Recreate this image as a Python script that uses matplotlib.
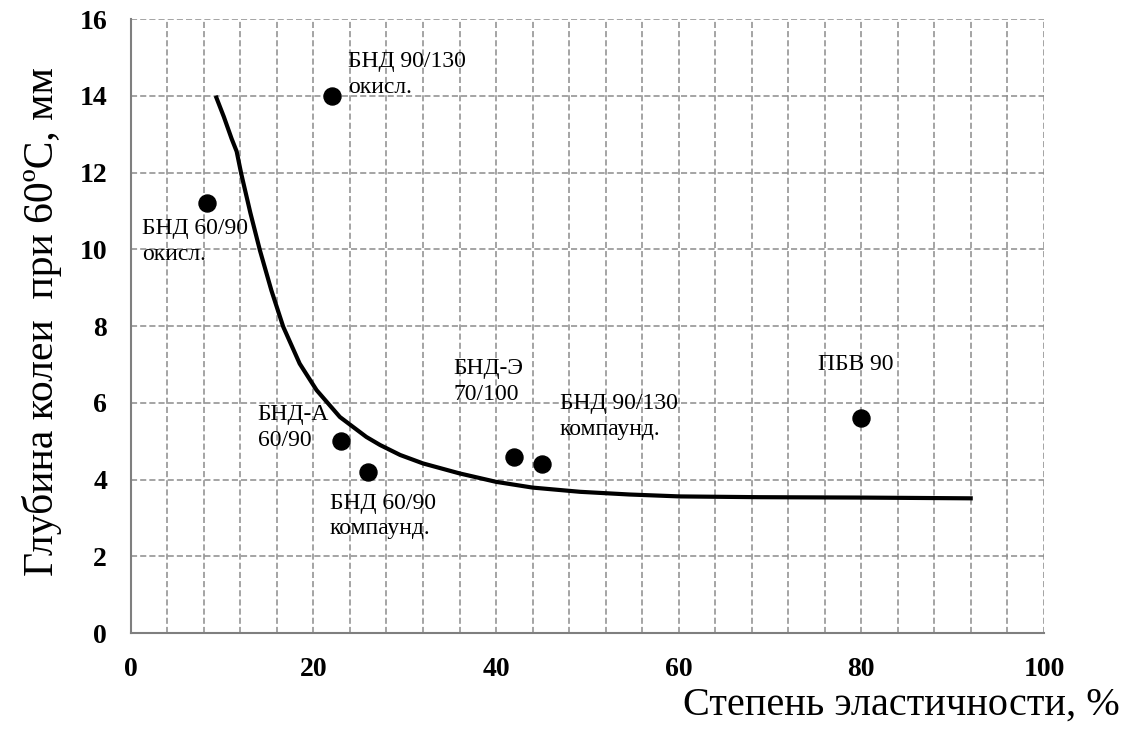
import matplotlib
matplotlib.use("Agg")
import matplotlib.pyplot as plt
from matplotlib.ticker import MultipleLocator

plt.rcParams['font.family'] = ['Liberation Serif', 'DejaVu Serif']

# точки (степень эластичности, глубина колеи)
pts_x = [8.3, 22.0, 23.0, 26.0, 42.0, 45.0, 80.0]
pts_y = [11.2, 14.0, 5.0, 4.2, 4.6, 4.4, 5.6]

# подписи точек и их положение
labels = ['БНД 90/130\nокисл.', 'БНД 60/90\nокисл.', 'БНД-А\n60/90',
          'БНД 60/90\nкомпаунд.', 'БНД-Э\n70/100', 'БНД 90/130\nкомпаунд.', 'ПБВ 90']
lab_x = [23.8, 1.2, 13.9, 21.8, 35.3, 47.0, 75.2]
lab_y = [14.55, 10.2, 5.35, 3.05, 6.55, 5.65, 7.0]

# линия тренда
curve_x = [9.3, 10.2, 11.05, 11.6, 12.1, 13.1, 14.15, 15.4, 16.7, 18.5, 20.35, 22.9, 25.8,
           27.3, 29.5, 32.0, 36.0, 40.0, 44.0, 49.2, 54.6, 60.1, 68.8, 79.8, 92.2]
curve_y = [14.0, 13.45, 12.88, 12.55, 11.97, 10.95, 9.97, 8.93, 7.98, 7.02, 6.33, 5.63, 5.11,
           4.9, 4.64, 4.42, 4.16, 3.94, 3.79, 3.68, 3.61, 3.56, 3.54, 3.53, 3.51]

fig = plt.figure(figsize=(11.22, 7.43), dpi=100)
ax = fig.add_axes([0.1165, 0.148, 0.814, 0.8264])

ax.plot(curve_x, curve_y, color='black', lw=3, solid_joinstyle='round',
        solid_capstyle='butt', zorder=3)
ax.scatter(pts_x, pts_y, s=150, color='black', zorder=4)

for t, x, y in zip(labels, lab_x, lab_y):
    ax.text(x, y, t, fontsize=17, ha='left', va='center', linespacing=1.3, zorder=5)

ax.set_xlim(0, 100)
ax.set_ylim(0, 16)
ax.xaxis.set_major_locator(MultipleLocator(20))
ax.xaxis.set_minor_locator(MultipleLocator(4))
ax.yaxis.set_major_locator(MultipleLocator(2))

gkw = dict(color='#8c8c8c', lw=1.1, linestyle=(0, (4, 2)))
ax.grid(True, which='both', axis='x', **gkw)
ax.grid(True, which='major', axis='y', **gkw)
ax.set_axisbelow(True)

for s in ['top', 'right']:
    ax.spines[s].set_visible(False)
for s in ['left', 'bottom']:
    ax.spines[s].set_color('#7f7f7f')
    ax.spines[s].set_linewidth(1.5)
    ax.spines[s].set_zorder(2.5)

ax.tick_params(which='both', length=0, pad=17, labelsize=20)
for lab in ax.get_xticklabels() + ax.get_yticklabels():
    lab.set_fontweight('bold')

fig.text(42 / 1122, 1 - 322 / 743, 'Глубина колеи  при 60ºС, мм', rotation=90,
         fontsize=30, ha='center', va='center')
fig.text(1120 / 1122, 1 - 715 / 743, 'Степень эластичности, %',
         fontsize=29, ha='right', va='baseline')

fig.savefig('out.png', dpi=100)
